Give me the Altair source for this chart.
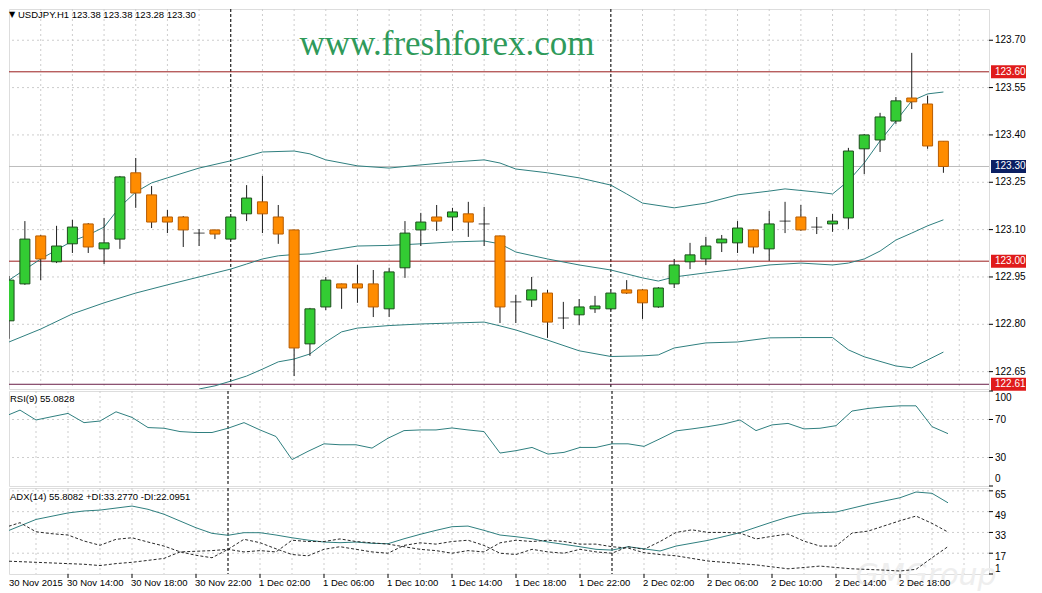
import altair as alt
import pandas as pd

# ---------------- data (USDJPY H1) ----------------
opens = [122.811, 122.928, 123.080, 122.998, 123.055, 123.118, 123.039, 123.070, 123.280, 123.210,
         123.140, 123.140, 123.089, 123.099, 123.070, 123.150, 123.188, 123.140, 123.099, 122.738,
         122.855, 122.928, 122.928, 122.928, 122.849, 122.979, 123.099, 123.140, 123.140, 123.150,
         123.118, 123.080, 122.871, 122.877, 122.899, 122.820, 122.830, 122.849, 122.849, 122.909,
         122.909, 122.855, 122.928, 122.998, 123.007, 123.058, 123.058, 123.099, 123.039, 123.127,
         123.140, 123.108, 123.118, 123.137, 123.356, 123.384, 123.444, 123.517, 123.498, 123.380]
highs = [122.953, 123.127, 123.083, 123.112, 123.131, 123.121, 123.137, 123.270, 123.327, 123.238,
         123.162, 123.143, 123.102, 123.100, 123.143, 123.241, 123.270, 123.178, 123.100, 122.852,
         122.950, 122.929, 122.988, 122.972, 122.979, 123.127, 123.153, 123.178, 123.169, 123.188,
         123.172, 123.081, 122.893, 122.950, 122.909, 122.871, 122.880, 122.890, 122.902, 122.940,
         122.912, 122.918, 123.007, 123.058, 123.077, 123.083, 123.127, 123.100, 123.159, 123.188,
         123.178, 123.140, 123.150, 123.359, 123.403, 123.470, 123.520, 123.660, 123.524, 123.380]
lows = [122.754, 122.925, 122.940, 122.994, 123.026, 123.026, 122.991, 123.039, 123.169, 123.105,
        123.089, 123.045, 123.048, 123.070, 123.067, 123.127, 123.089, 123.055, 122.636, 122.700,
        122.845, 122.849, 122.868, 122.823, 122.823, 122.947, 123.048, 123.096, 123.096, 123.077,
        123.048, 122.804, 122.804, 122.855, 122.757, 122.785, 122.798, 122.836, 122.845, 122.896,
        122.817, 122.852, 122.915, 122.975, 122.988, 123.029, 123.026, 123.024, 123.001, 123.089,
        123.096, 123.086, 123.093, 123.102, 123.276, 123.346, 123.435, 123.482, 123.356, 123.280]
closes = [122.940, 123.070, 123.007, 123.048, 123.108, 123.045, 123.058, 123.267, 123.216, 123.124,
          123.124, 123.099, 123.089, 123.086, 123.140, 123.200, 123.150, 123.086, 122.725, 122.849,
          122.940, 122.915, 122.915, 122.855, 122.966, 123.089, 123.124, 123.127, 123.156, 123.124,
          123.118, 122.855, 122.871, 122.909, 122.807, 122.820, 122.855, 122.858, 122.899, 122.899,
          122.868, 122.915, 122.988, 123.020, 123.048, 123.070, 123.105, 123.045, 123.118, 123.127,
          123.099, 123.108, 123.127, 123.349, 123.400, 123.457, 123.508, 123.505, 123.365, 123.300]

x_label_idx = [0, 4, 8, 12, 16, 20, 24, 28, 32, 36, 40, 44, 48, 52, 56]
x_labels = ["30 Nov 2015", "30 Nov 14:00", "30 Nov 18:00", "30 Nov 22:00", "1 Dec 02:00",
            "1 Dec 06:00", "1 Dec 10:00", "1 Dec 14:00", "1 Dec 18:00", "1 Dec 22:00",
            "2 Dec 02:00", "2 Dec 06:00", "2 Dec 10:00", "2 Dec 14:00", "2 Dec 18:00"]
day_breaks = [14, 38]

price_ticks = [122.65, 122.80, 122.95, 123.10, 123.25, 123.40, 123.55, 123.70]

bb_upper_idx = [0, 2, 4, 5, 6, 7, 8, 9, 10, 12, 14, 16, 18, 19, 20, 22, 24, 26, 28, 30, 31, 32, 34, 36,
                38, 39, 40, 42, 44, 46, 48, 49, 51, 52, 53, 54, 55, 56, 57, 58, 59]
bb_upper = [122.940, 123.007, 123.064, 123.083, 123.108, 123.172, 123.219, 123.248, 123.264, 123.295,
            123.318, 123.346, 123.349, 123.340, 123.321, 123.302, 123.295, 123.305, 123.314, 123.321,
            123.311, 123.292, 123.280, 123.264, 123.241, 123.213, 123.184, 123.169, 123.184, 123.210,
            123.222, 123.229, 123.219, 123.213, 123.254, 123.311, 123.381, 123.444, 123.508, 123.530,
            123.536]
bb_mid_idx = [0, 2, 4, 6, 8, 10, 12, 14, 15, 16, 17, 18, 19, 20, 22, 24, 26, 28, 30, 31, 32, 34, 36, 38,
              40, 41, 42, 44, 46, 48, 50, 52, 53, 54, 55, 56, 57, 58, 59]
bb_mid = [122.744, 122.785, 122.833, 122.868, 122.899, 122.925, 122.950, 122.975, 122.991, 123.007,
          123.017, 123.021, 123.023, 123.032, 123.048, 123.050, 123.055, 123.061, 123.064, 123.055,
          123.029, 123.007, 122.988, 122.972, 122.947, 122.937, 122.950, 122.963, 122.975, 122.988,
          122.994, 122.988, 122.994, 123.007, 123.032, 123.067, 123.089, 123.112, 123.131]
bb_lower_idx = [12, 13, 14, 15, 16, 17, 18, 19, 20, 21, 22, 24, 26, 28, 30, 31, 32, 34, 36, 38, 40, 41,
                42, 44, 46, 48, 50, 52, 53, 54, 56, 57, 58, 59]
bb_lower = [122.595, 122.605, 122.620, 122.636, 122.658, 122.681, 122.690, 122.706, 122.744, 122.776,
            122.788, 122.796, 122.801, 122.804, 122.807, 122.795, 122.782, 122.750, 122.716, 122.698,
            122.700, 122.703, 122.725, 122.741, 122.744, 122.757, 122.758, 122.758, 122.719, 122.697,
            122.668, 122.662, 122.687, 122.712]

rsi = [72.9, 79.9, 69.5, 73.0, 76.4, 66.7, 68.4, 78.1, 72.2, 61.5,
       60.8, 57.3, 56.3, 56.3, 60.8, 66.7, 59.0, 52.1, 27.8, 36.5,
       44.4, 43.4, 43.4, 39.9, 50.3, 58.3, 59.0, 59.0, 61.1, 59.0,
       57.3, 34.7, 37.2, 40.6, 33.6, 35.4, 40.6, 40.6, 44.4, 44.4,
       41.7, 49.7, 58.0, 60.1, 62.5, 65.3, 69.5, 58.3, 64.3, 65.9,
       60.1, 60.8, 63.5, 78.9, 81.6, 83.3, 84.4, 84.4, 62.5, 55.1]

adx_idx = [0, 2, 4, 5, 6, 8, 9, 10, 11, 12, 13, 14, 15, 16, 17, 18, 19, 20, 21, 22, 23, 24, 25, 26,
           27, 28, 29, 30, 31, 32, 33, 34, 35, 36, 37, 38, 39, 40, 41, 42, 44, 46, 48, 49, 50, 51,
           52, 54, 56, 57, 58, 59]
adx = [33.0, 43.0, 48.0, 49.5, 50.2, 53.3, 50.8, 47.0, 41.8, 36.6, 32.3, 30.8, 32.8, 32.8, 31.0,
       28.9, 27.1, 25.6, 25.1, 25.6, 24.6, 24.3, 28.1, 31.5, 34.6, 37.4, 37.9, 34.6, 31.0, 29.7,
       28.1, 25.6, 23.8, 22.0, 20.0, 19.4, 22.0, 20.4, 18.7, 22.5, 26.9, 32.8, 41.0, 44.8, 47.7,
       48.2, 48.7, 54.6, 59.7, 64.1, 63.1, 55.8]
plus_di = [36.6, 40.5, 33.5, 32, 31, 26.4, 23.1, 27.7, 28.9, 25.6,
           22.5, 18.1, 15.4, 13.5, 20, 27.7, 25.1, 20.4, 16, 15,
           20, 22, 20, 18, 17, 23, 25, 24, 26, 27,
           23, 17, 16, 20, 18, 17, 20, 18, 17, 22,
           20, 26, 33, 35, 33, 33, 32.5, 28, 30, 31.8,
           26.3, 22.5, 22.5, 32.5, 34, 38, 42, 45.6, 40, 33.28]
minus_di = [11, 10.5, 10, 9.5, 9, 8.5, 7.5, 9, 10, 11.5,
            13, 18, 18.5, 19, 20, 18, 19, 18, 27, 26,
            26, 28, 26, 25, 24, 22, 20, 19, 17, 19,
            18, 25, 27, 26, 27, 26, 24, 24, 22, 21,
            17.4, 16, 15, 13, 11, 10, 9, 8, 6.5, 5,
            6, 7.1, 6, 5, 4.5, 4, 3.3, 4.6, 13.5, 22.1]

level_prices = [123.60, 123.00, 122.61]
level_colors = ["#9b1c1c", "#9b1c1c", "#6a1f48"]
tag_prices = [123.60, 123.30, 123.00, 122.61]
tag_colors = ["#e01b1b", "#0b1f63", "#e01b1b", "#e01b1b"]

rsi_ticks_mid = [70, 30]
rsi_tick_top = [100]
rsi_tick_bottom = [0]
rsi_levels = [70, 30]
adx_ticks = [65, 49, 33, 17]
adx_tick_bottom = [1]
adx_levels = [65, 49, 33, 17]

# ---------------- styling ----------------
FONT = "Liberation Sans"
W = 980
H_MAIN, H_RSI, H_ADX = 380, 95, 86
GREEN, GREEN_EDGE = "#33cc33", "#1d4d1d"
ORANGE, ORANGE_EDGE = "#ff8c00", "#b85c00"
BAND = "#2f7f7f"
GRID = "#cdcdcd"

xs = alt.Scale(domain=[0.3125, 61.5625], nice=False, zero=False)
ys_main = alt.Scale(domain=[122.595, 123.799], nice=False, zero=False)
ys_rsi = alt.Scale(domain=[0, 100], nice=False, zero=False)
ys_adx = alt.Scale(domain=[1, 67.2], nice=False, zero=False)


def X(field="i:Q"):
    return alt.X(field, scale=xs, axis=None)


n = len(opens)
candles = pd.DataFrame({"i": list(range(n)), "open": opens, "high": highs,
                        "low": lows, "close": closes})
candles["kind"] = ["bull" if c > o else ("bear" if c < o else "doji")
                   for o, c in zip(opens, closes)]

vgrid_df = pd.DataFrame({"i": list(range(2, 62, 2))})
sep_df = pd.DataFrame({"i": day_breaks})


def vgrid():
    return alt.Chart(vgrid_df).mark_rule(color=GRID, strokeDash=[2, 3], strokeWidth=1).encode(x=X())


def seps():
    return alt.Chart(sep_df).mark_rule(color="#000000", strokeDash=[3, 2], strokeWidth=1).encode(x=X())


def hgrid(values, scale):
    return alt.Chart(pd.DataFrame({"v": values})).mark_rule(color=GRID, strokeDash=[2, 3]).encode(
        y=alt.Y("v:Q", scale=scale, axis=None))


def tick_labels(values, scale, fmt, baseline="middle", dy=0):
    df = pd.DataFrame({"v": values})
    marks = alt.Chart(df).mark_rule(color="#000000").encode(
        x=alt.value(W), x2=alt.value(W + 4), y=alt.Y("v:Q", scale=scale, axis=None))
    texts = alt.Chart(df).mark_text(align="left", baseline=baseline, dy=dy, font=FONT, fontSize=10,
                                    color="#000000").encode(
        x=alt.value(W + 6), y=alt.Y("v:Q", scale=scale, axis=None), text=alt.Text("v:Q", format=fmt))
    return marks + texts


def label(text, x, y, size=10, color="#000000"):
    return alt.Chart(pd.DataFrame({"t": [text]})).mark_text(
        align="left", baseline="middle", font=FONT, fontSize=size, color=color
    ).encode(x=alt.value(x), y=alt.value(y), text="t:N")


# ---------------- main price panel ----------------
bid = alt.Chart(pd.DataFrame({"p": [closes[-1]]})).mark_rule(color="#bdbdbd").encode(
    y=alt.Y("p:Q", scale=ys_main, axis=None))

levels = alt.Chart(pd.DataFrame({"p": level_prices, "c": level_colors})).mark_rule(strokeWidth=1).encode(
    y=alt.Y("p:Q", scale=ys_main, axis=None), color=alt.Color("c:N", scale=None))

band_rows = ([{"band": "upper", "i": i, "v": v} for i, v in zip(bb_upper_idx, bb_upper)] +
             [{"band": "mid", "i": i, "v": v} for i, v in zip(bb_mid_idx, bb_mid)] +
             [{"band": "lower", "i": i, "v": v} for i, v in zip(bb_lower_idx, bb_lower)])
bands = alt.Chart(pd.DataFrame(band_rows)).mark_line(color=BAND, strokeWidth=1, clip=True).encode(
    x=X(), y=alt.Y("v:Q", scale=ys_main, axis=None), detail="band:N")

wicks = alt.Chart(candles).mark_rule(color="#1e1e1e", strokeWidth=1, clip=True).encode(
    x=X(), y=alt.Y("low:Q", scale=ys_main, axis=None), y2="high:Q")

bodies = alt.Chart(candles[candles.kind != "doji"]).mark_bar(size=10, strokeWidth=1, clip=True).encode(
    x=X(), y=alt.Y("open:Q", scale=ys_main, axis=None), y2="close:Q",
    fill=alt.Fill("kind:N", scale=alt.Scale(domain=["bull", "bear"], range=[GREEN, ORANGE]), legend=None),
    stroke=alt.Stroke("kind:N", scale=alt.Scale(domain=["bull", "bear"], range=[GREEN_EDGE, ORANGE_EDGE]),
                      legend=None))

doji = alt.Chart(candles[candles.kind == "doji"]).mark_tick(
    orient="horizontal", size=11, thickness=1, color="#000000", clip=True).encode(
    x=X(), y=alt.Y("open:Q", scale=ys_main, axis=None))

watermark = alt.Chart(pd.DataFrame({"t": ["www.freshforex.com"]})).mark_text(
    align="center", baseline="middle", font="Liberation Serif", fontSize=35, color="#2f9a5a").encode(
    x=alt.value(438), y=alt.value(35), text="t:N")

tri = alt.Chart(pd.DataFrame({"t": ["\u25bc"]})).mark_text(
    align="left", baseline="middle", font="DejaVu Sans", fontSize=8, color="#000000").encode(
    x=alt.value(0), y=alt.value(6), text="t:N")
title_txt = label("USDJPY.H1  123.38 123.38 123.28 123.30", 9, 6, size=9.5)

tags_df = pd.DataFrame({"p": tag_prices, "c": tag_colors, "t": [f"{p:.2f}" for p in tag_prices]})
tag_box = alt.Chart(tags_df).mark_point(
    shape="M-1,-0.37L1,-0.37L1,0.37L-1,0.37Z", filled=True, size=1225, opacity=1).encode(
    x=alt.value(W + 19.5), y=alt.Y("p:Q", scale=ys_main, axis=None), color=alt.Color("c:N", scale=None))
tag_txt = alt.Chart(tags_df).mark_text(align="left", baseline="middle", font=FONT, fontSize=10,
                                       color="#ffffff").encode(
    x=alt.value(W + 6), y=alt.Y("p:Q", scale=ys_main, axis=None), text="t:N")

main = alt.layer(hgrid(price_ticks, ys_main), vgrid(), seps(), bid, levels, bands, wicks, bodies, doji,
                 watermark, tri, title_txt, tick_labels(price_ticks, ys_main, ".2f"),
                 tag_box, tag_txt).properties(width=W, height=H_MAIN)

# ---------------- RSI panel ----------------
rsi_line = alt.Chart(pd.DataFrame({"i": list(range(n)), "v": rsi})).mark_line(
    color=BAND, strokeWidth=1, clip=True).encode(x=X(), y=alt.Y("v:Q", scale=ys_rsi, axis=None))
rsi_txt = label("RSI(9) 55.0828", 1, 8, size=9.5)
rsi_panel = alt.layer(hgrid(rsi_levels, ys_rsi), vgrid(), seps(), rsi_line, rsi_txt,
                      tick_labels(rsi_ticks_mid, ys_rsi, "d"),
                      tick_labels(rsi_tick_top, ys_rsi, "d", baseline="top", dy=2),
                      tick_labels(rsi_tick_bottom, ys_rsi, "d", baseline="bottom", dy=-2)
                      ).properties(width=W, height=H_RSI)

# ---------------- ADX panel ----------------
adx_line = alt.Chart(pd.DataFrame({"i": adx_idx, "v": adx})).mark_line(
    color=BAND, strokeWidth=1, clip=True).encode(x=X(), y=alt.Y("v:Q", scale=ys_adx, axis=None))
di_rows = ([{"s": "+DI", "i": i, "v": v} for i, v in enumerate(plus_di)] +
           [{"s": "-DI", "i": i, "v": v} for i, v in enumerate(minus_di)])
di_lines = alt.Chart(pd.DataFrame(di_rows)).mark_line(
    color="#2a2a2a", strokeWidth=1, strokeDash=[3, 2], clip=True).encode(
    x=X(), y=alt.Y("v:Q", scale=ys_adx, axis=None), detail="s:N")
adx_txt = label("ADX(14) 55.8082 +DI:33.2770 -DI:22.0951", 1, 9, size=9.5)

xlab_df = pd.DataFrame({"i": x_label_idx[1:], "t": x_labels[1:]})
xlabs = alt.Chart(xlab_df).mark_text(align="left", baseline="middle", font=FONT, fontSize=9.5,
                                     color="#000000", dx=-1).encode(
    x=X(), y=alt.value(H_ADX + 9), text="t:N")
xlab0 = label(x_labels[0], 0, H_ADX + 9, size=9.5)
xticks = alt.Chart(pd.DataFrame({"i": x_label_idx[1:]})).mark_rule(color="#000000").encode(
    x=X(), y=alt.value(H_ADX), y2=alt.value(H_ADX + 4))
ghost = alt.Chart(pd.DataFrame({"t": ["GMGroup"]})).mark_text(
    align="center", baseline="middle", font="DejaVu Sans", fontSize=30, fontStyle="italic",
    color="#eeeeee").encode(x=alt.value(917), y=alt.value(H_ADX + 2), text="t:N")

adx_panel = alt.layer(hgrid(adx_levels, ys_adx), vgrid(), seps(), ghost, adx_line, di_lines, adx_txt,
                      tick_labels(adx_ticks, ys_adx, "d", dy=4),
                      tick_labels(adx_tick_bottom, ys_adx, "d", baseline="bottom", dy=0),
                      xticks, xlabs, xlab0).properties(width=W, height=H_ADX)

chart = alt.vconcat(main, rsi_panel, adx_panel, spacing=2, bounds="flush").resolve_scale(
    y="independent", color="independent").configure_view(
    stroke="#000000", strokeWidth=1).configure(background="#ffffff").properties(
    padding={"left": 0, "top": 0, "right": 6, "bottom": 4})

chart.save("out.html", embed_options={"renderer": "svg", "actions": False})
